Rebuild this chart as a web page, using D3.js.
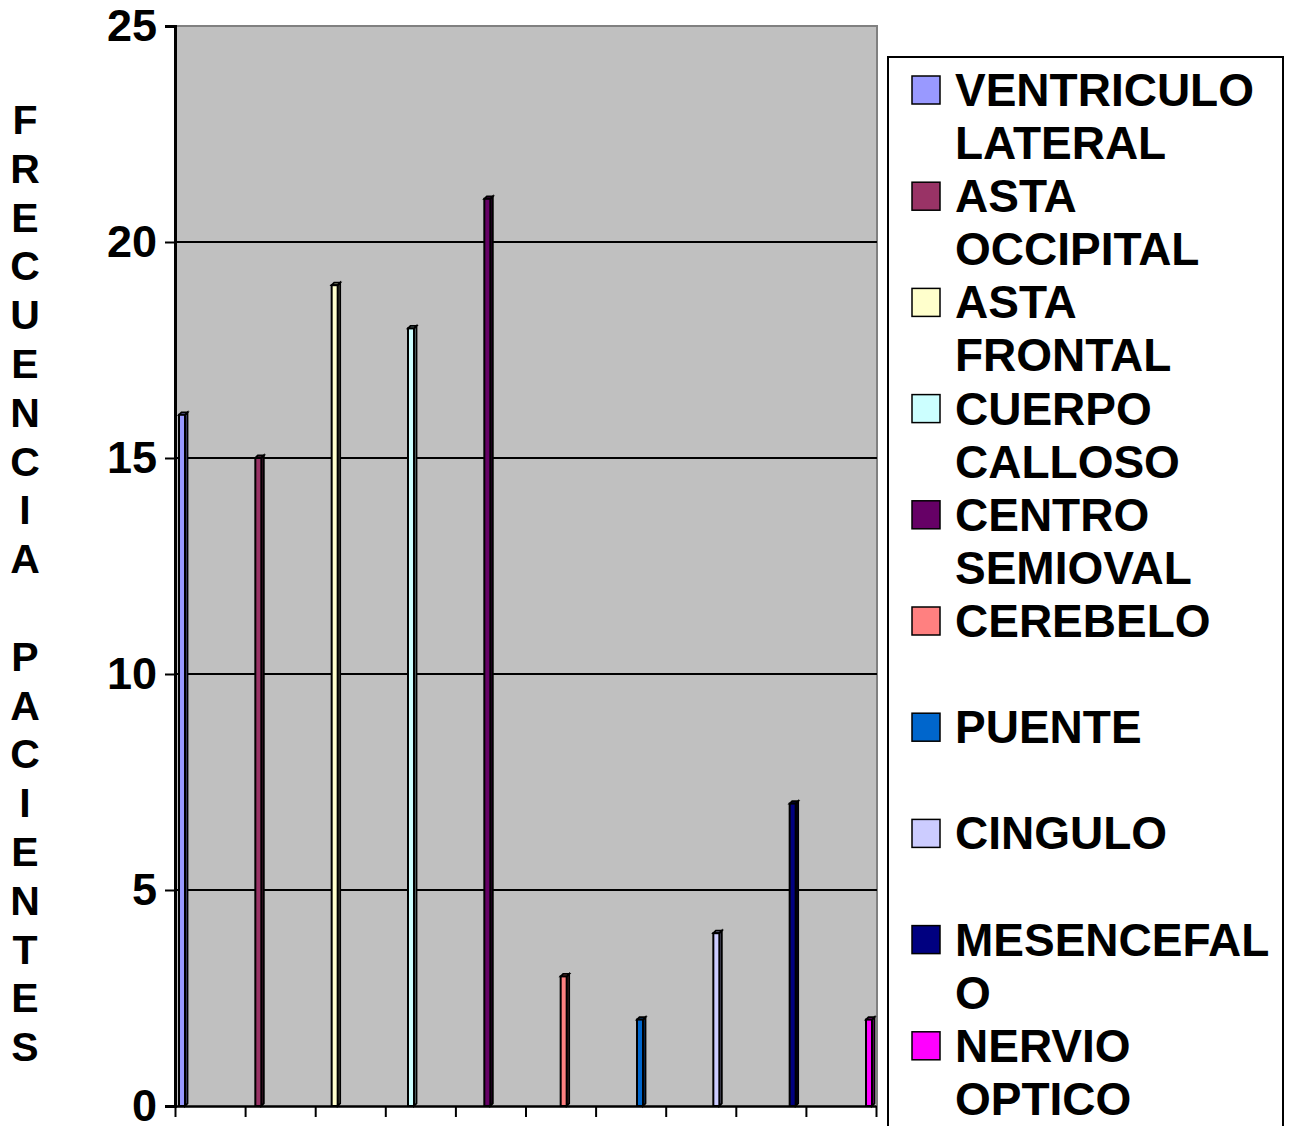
<!DOCTYPE html>
<html>
<head>
<meta charset="utf-8">
<script src="https://cdn.jsdelivr.net/npm/d3@7"></script>
<style>
  body { margin: 0; background: #fff; }
  text { font-family: "Liberation Sans", Arial, sans-serif; font-weight: bold; }
</style>
</head>
<body>
<svg id="chart" width="1290" height="1126"></svg>
<script>
// data
const series = ["VENTRICULO LATERAL", "ASTA OCCIPITAL", "ASTA FRONTAL", "CUERPO CALLOSO",
  "CENTRO SEMIOVAL", "CEREBELO", "PUENTE", "CINGULO", "MESENCEFALO", "NERVIO OPTICO"]
const values = [16, 15, 19, 18, 21, 3, 2, 4, 7, 2]
const colors = ["#9999FF", "#993366", "#FFFFCC", "#CCFFFF", "#660066",
  "#FF8080", "#0066CC", "#CCCCFF", "#000080", "#FF00FF"]
const yTicks = [0, 5, 10, 15, 20, 25]
const yTitle = "FRECUENCIA PACIENTES"

const svg = d3.select("#chart")

const plotL = 175, plotR = 877, plotT = 26, plotB = 1106

const y = d3.scaleLinear().domain([0, 25]).range([plotB, plotT])
const x = d3.scalePoint().domain(series).range([179, 866])
const xTick = d3.scaleLinear().domain([0, 10]).range([plotL, plotR - 1])

// plot area
svg.append('rect')
  .attr('x', plotL).attr('y', plotT)
  .attr('width', plotR - plotL).attr('height', plotB - plotT)
  .attr('fill', '#C0C0C0')
svg.append('path')
  .attr('d', `M${plotL},${plotT}H${plotR}V${plotB}`)
  .attr('fill', 'none')
  .attr('stroke', '#808080')
  .attr('stroke-width', 2)

// gridlines
svg.append('g').selectAll('line')
  .data(yTicks.filter(d => d > 0 && d < 25))
  .enter()
  .append('line')
  .attr('x1', plotL).attr('x2', plotR)
  .attr('y1', d => y(d)).attr('y2', d => y(d))
  .attr('stroke', 'black')
  .attr('stroke-width', 2)

// bars (thin 3d columns)
const w = 6, dep = 2.5
const barG = svg.append('g').selectAll('g')
  .data(series)
  .enter()
  .append('g')

barG.append('path')  // side
  .attr('d', (d, i) => {
    const x0 = x(d) + w, y0 = y(values[i])
    return `M${x0},${y0}L${x0 + dep},${y0 - dep}V${plotB - dep}L${x0},${plotB}Z`
  })
  .attr('fill', (d, i) => d3.color(colors[i]).darker(1.5))
  .attr('stroke', 'black')
  .attr('stroke-width', 1.8)

barG.append('path')  // top
  .attr('d', (d, i) => {
    const x0 = x(d), y0 = y(values[i])
    return `M${x0},${y0}L${x0 + dep},${y0 - dep}H${x0 + w + dep}L${x0 + w},${y0}Z`
  })
  .attr('fill', (d, i) => d3.color(colors[i]).darker(1))
  .attr('stroke', 'black')
  .attr('stroke-width', 1.8)

barG.append('rect')  // front
  .attr('x', d => x(d))
  .attr('y', (d, i) => y(values[i]))
  .attr('width', w)
  .attr('height', (d, i) => plotB - y(values[i]))
  .attr('fill', (d, i) => colors[i])
  .attr('stroke', 'black')
  .attr('stroke-width', 2)

// y axis
const yAxis = svg.append('g')
  .attr('transform', `translate(${plotL},0)`)
  .call(d3.axisLeft(y).tickValues(yTicks).tickSize(10).tickPadding(8))
yAxis.select('.domain').attr('stroke-width', 3)
yAxis.selectAll('.tick line').attr('stroke-width', 2)
yAxis.selectAll('text')
  .attr('font-size', 45)
  .attr('font-family', '"Liberation Sans", Arial, sans-serif')
  .attr('font-weight', 'bold')
  .attr('fill', 'black')

// x axis (ticks only)
const xAxis = svg.append('g')
  .attr('transform', `translate(0,${plotB})`)
  .call(d3.axisBottom(xTick).ticks(10).tickSize(11).tickSizeOuter(0).tickFormat(''))
xAxis.select('.domain').attr('stroke-width', 2.5)
xAxis.selectAll('.tick line').attr('stroke-width', 2)

// vertical title, one letter per row
svg.append('g').selectAll('text')
  .data(yTitle.split(''))
  .enter()
  .append('text')
  .attr('x', 25)
  .attr('y', (d, i) => 134 + i * 48.8)
  .attr('text-anchor', 'middle')
  .attr('font-size', 41)
  .text(d => d)

// legend
function wrap(name, max) {
  const lines = []
  name.split(' ').forEach(word => {
    while (word.length > max) {
      lines.push(word.slice(0, max))
      word = word.slice(max)
    }
    lines.push(word)
  })
  return lines
}

svg.append('rect')
  .attr('x', 888).attr('y', 57)
  .attr('width', 395).attr('height', 1100)
  .attr('fill', 'white')
  .attr('stroke', 'black')
  .attr('stroke-width', 2)

const legendG = svg.append('g').selectAll('g')
  .data(series)
  .enter()
  .append('g')
  .attr('transform', (d, i) => `translate(912,${76 + i * 106.2})`)

legendG.append('rect')
  .attr('width', 28).attr('height', 28)
  .attr('fill', (d, i) => colors[i])
  .attr('stroke', 'black')
  .attr('stroke-width', 1.5)

legendG.append('text')
  .attr('font-size', 46)
  .selectAll('tspan')
  .data(d => wrap(d, 10))
  .enter()
  .append('tspan')
  .attr('x', 43)
  .attr('y', (d, i) => 30 + i * 53)
  .text(d => d)
</script>
</body>
</html>
